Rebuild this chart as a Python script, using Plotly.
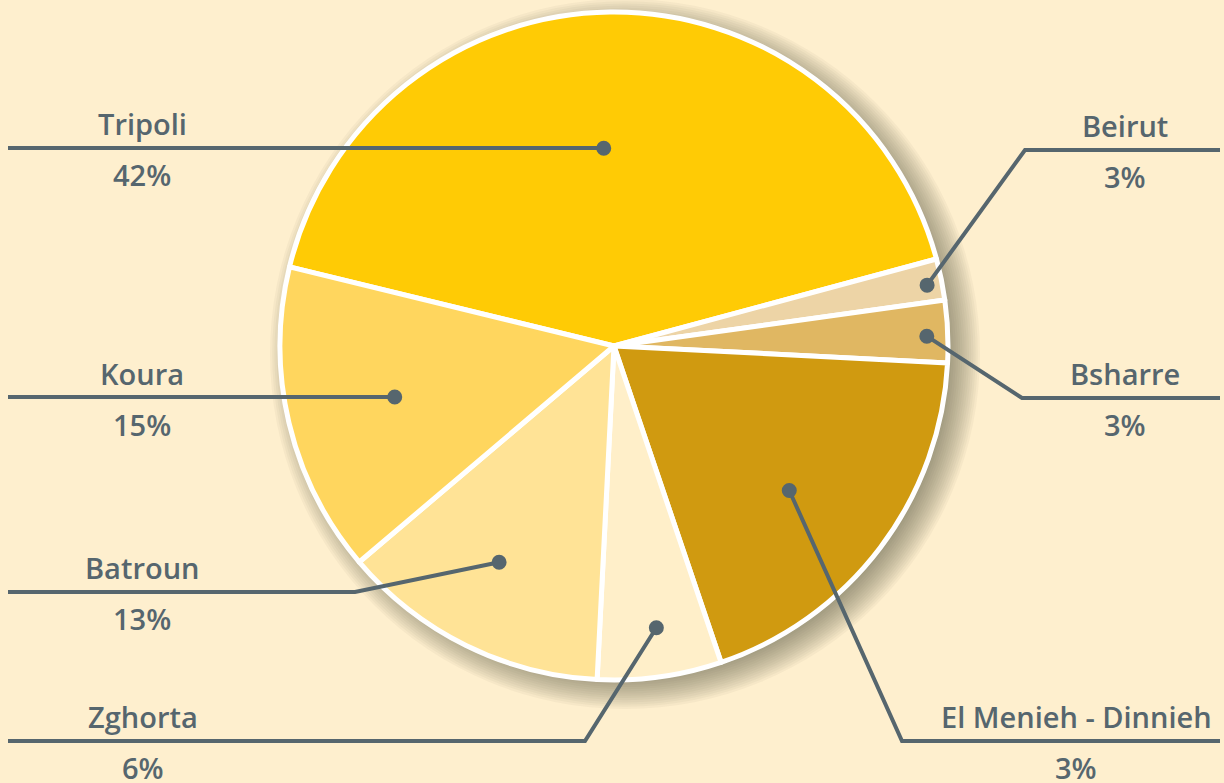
import math
import plotly.graph_objects as go

# ---------------- data ----------------
districts = ["Tripoli", "Beirut", "Bsharre", "El Menieh - Dinnieh", "Zghorta", "Batroun", "Koura"]
shares = [42, 2, 3, 19, 6, 13, 15]          # slice sizes
share_labels = ["42%", "3%", "3%", "3%", "6%", "13%", "15%"]   # texts as printed

# ---------------- style / layout ----------------
colors = ["#FFCB05", "#EDD4A6", "#E0B762", "#D09A10", "#FFEFC9", "#FFE396", "#FFD65E"]
BG = "#FEEFCE"
INK = "#56666E"
W, H = 1224, 783
CX, CY, R = 614, 346, 334          # pie centre / radius in pixels
ROT = -76.3                        # start angle of the first slice (deg, clockwise from 12 o'clock)

# where the dot sits inside each slice: fraction of slice angle, fraction of radius
dot_t = [0.485, 0.57, 0.565, 0.535, 0.47, 0.536, 0.504]
dot_r = [0.593, 0.955, 0.937, 0.68, 0.853, 0.733, 0.674]
# leader-line layout: side, line y, elbow x (None = straight), label centre x
side = ["L", "R", "R", "R", "L", "L", "L"]
line_y = [148, 150, 398, 741, 741, 592, 398]
elbow_x = [None, 1025, 1022, 902, 585, 355, None]
label_x = [142, 1125, 1125, 1076, 143, 142, 142]
LEFT_END, RIGHT_END = 8, 1220
DOT_R = 7.5

fig = go.Figure()

# soft drop shadow (stack of translucent circles)
shapes = []
for k in range(16):
    rr = R - 12 + k * 2.2
    shapes.append(dict(
        type="circle", xref="x", yref="y", layer="below",
        x0=CX + 11 - rr, x1=CX + 11 + rr, y0=CY + 8 - rr, y1=CY + 8 + rr,
        fillcolor="rgba(95,80,55,0.048)", line=dict(width=0)))

fig.add_trace(go.Pie(
    labels=districts, values=shares, sort=False, direction="clockwise",
    rotation=ROT, textinfo="none", hoverinfo="skip", showlegend=False,
    marker=dict(colors=colors, line=dict(color="white", width=5)),
    domain=dict(x=[(CX - R) / W, (CX + R) / W], y=[1 - (CY + R) / H, 1 - (CY - R) / H]),
))

# invisible trace to keep the pixel-space axes alive
fig.add_trace(go.Scatter(x=[0, W], y=[0, H], mode="markers", marker=dict(opacity=0),
                         hoverinfo="skip", showlegend=False))

total = sum(shares)
cum = 0
annotations = []
for i, name in enumerate(districts):
    start = ROT + 360 * cum / total
    span = 360 * shares[i] / total
    cum += shares[i]
    th = math.radians(start + dot_t[i] * span)
    dx = CX + dot_r[i] * R * math.sin(th)
    dy = CY - dot_r[i] * R * math.cos(th)
    end = LEFT_END if side[i] == "L" else RIGHT_END
    if elbow_x[i] is None:
        ly = round(dy)
        path = f"M {end},{ly} L {dx:.2f},{ly}"
    else:
        ly = line_y[i]
        path = f"M {end},{ly} L {elbow_x[i]},{ly} L {dx:.2f},{dy:.2f}"
    shapes.append(dict(type="path", path=path, xref="x", yref="y", layer="above",
                       line=dict(color=INK, width=4)))
    shapes.append(dict(type="circle", xref="x", yref="y", layer="above",
                       x0=dx - DOT_R, x1=dx + DOT_R, y0=dy - DOT_R, y1=dy + DOT_R,
                       fillcolor=INK, line=dict(width=0)))
    annotations.append(dict(x=label_x[i], y=line_y[i] - 25, xref="x", yref="y", text=name,
                            showarrow=False, xanchor="center", yanchor="middle"))
    annotations.append(dict(x=label_x[i], y=line_y[i] + 26, xref="x", yref="y", text=share_labels[i],
                            showarrow=False, xanchor="center", yanchor="middle"))

fig.update_layout(
    width=W, height=H, margin=dict(l=0, r=0, t=0, b=0),
    paper_bgcolor=BG, plot_bgcolor="rgba(0,0,0,0)",
    font=dict(family="Open Sans", size=29, color=INK, weight=600),
    xaxis=dict(range=[0, W], domain=[0, 1], visible=False, fixedrange=True),
    yaxis=dict(range=[H, 0], domain=[0, 1], visible=False, fixedrange=True),
    shapes=shapes, annotations=annotations,
)

fig.write_html("out.html", config={"displayModeBar": False},
               post_script="document.body.style.margin='0';document.body.style.overflow='hidden';")
